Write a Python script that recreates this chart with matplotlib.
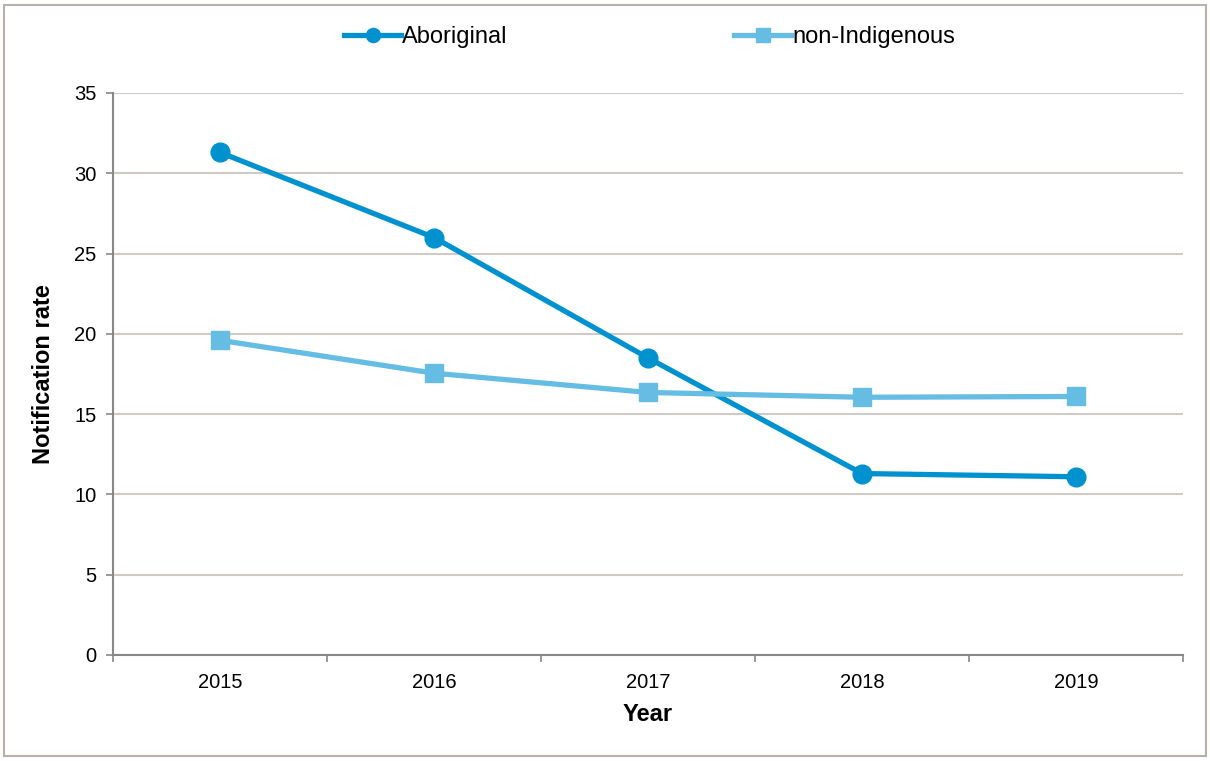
import numpy as np
import matplotlib.pyplot as plt
from matplotlib.patches import Rectangle

years = ['2015', '2016', '2017', '2018', '2019']
aboriginal = [31.3, 26.0, 18.5, 11.3, 11.1]
non_indigenous = [19.6, 17.55, 16.35, 16.05, 16.1]

plt.rcParams['font.family'] = ['Liberation Sans', 'DejaVu Sans']

fig = plt.figure(figsize=(12.1, 7.61), dpi=100)
ax = fig.add_axes([0.0934, 0.1393, 0.8843, 0.7385])

x = np.arange(len(years))
ax.plot(x, aboriginal, color='#0092CF', lw=3.8, marker='o', ms=13.5, label='Aboriginal')
ax.plot(x, non_indigenous, color='#66BDE3', lw=3.8, marker='s', ms=13.5, label='non-Indigenous')

ax.set_xlim(-0.5, len(years) - 0.5)
ax.set_ylim(0, 35)
ax.set_yticks(range(0, 36, 5))
ax.set_xticks(x)
ax.set_xticklabels(years)
ax.set_xticks(np.arange(-0.5, len(years), 1), minor=True)
ax.tick_params(axis='x', which='major', length=0, pad=13, labelsize=14.5)
ax.tick_params(axis='x', which='minor', length=5, color='#888888', width=1.2)
ax.tick_params(axis='y', length=5, color='#888888', width=1.2, labelsize=14.5, pad=7)
ax.yaxis.grid(True, color='#d0cac6', lw=1.5)
ax.set_axisbelow(True)

for s in ['top', 'right']:
    ax.spines[s].set_visible(False)
for s in ['left', 'bottom']:
    ax.spines[s].set_color('#888888')
    ax.spines[s].set_linewidth(1.5)

ax.set_xlabel('Year', fontsize=17, fontweight='bold', labelpad=8)
ax.set_ylabel('Notification rate', fontsize=17, fontweight='bold', labelpad=14)

fig.legend(loc='center', bbox_to_anchor=(0.537, 0.951), ncol=2, frameon=False,
           fontsize=17, handlelength=2.4, handletextpad=0.05, columnspacing=9.6,
           markerscale=0.75)

fig.patches.append(Rectangle((0.003, 0.006), 0.994, 0.988, transform=fig.transFigure,
                             fill=False, edgecolor='#b9b0a8', lw=1.5))

fig.savefig('out.png', dpi=100)
